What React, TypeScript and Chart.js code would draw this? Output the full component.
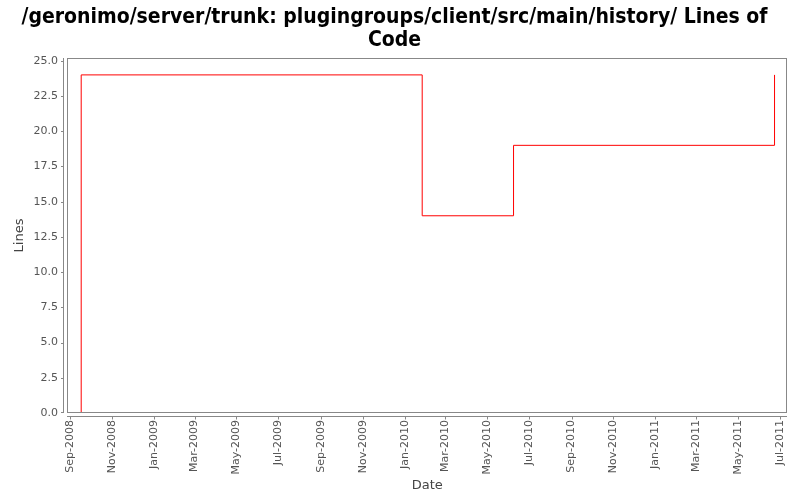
import { useEffect, useRef } from 'react';
import { Chart, registerables } from 'chart.js';

Chart.register(...registerables);

const titleLines = ['/geronimo/server/trunk: plugingroups/client/src/main/history/ Lines of', 'Code'];
const commitDates = ['2008-09-16T16:00:00Z', '2008-09-17T00:00:00Z', '2010-01-26T12:00:00Z', '2010-06-08T12:00:00Z', '2011-06-23T12:00:00Z'];
const lineCounts = [0, 24, 14, 19, 24];
const xTickLabels = ['Sep-2008', 'Nov-2008', 'Jan-2009', 'Mar-2009', 'May-2009', 'Jul-2009', 'Sep-2009', 'Nov-2009', 'Jan-2010', 'Mar-2010', 'May-2010', 'Jul-2010', 'Sep-2010', 'Nov-2010', 'Jan-2011', 'Mar-2011', 'May-2011', 'Jul-2011'];
const yTickValues = [0, 2.5, 5, 7.5, 10, 12.5, 15, 17.5, 20, 22.5, 25];
const xRange = ['2008-08-27T08:00:00Z', '2011-07-12T05:00:00Z'];
const yRange = [0, 25.2];

const monthNames = ['Jan', 'Feb', 'Mar', 'Apr', 'May', 'Jun', 'Jul', 'Aug', 'Sep', 'Oct', 'Nov', 'Dec'];
const labelToTime = (label: string) => {
  const [m, y] = label.split('-');
  return Date.UTC(Number(y), monthNames.indexOf(m), 1);
};
const xTickValues = xTickLabels.map(labelToTime);

const AXIS_COLOR = '#888888';
const TICK_COLOR = '#555555';
const FONT = 'DejaVu Sans';

const framePlugin = {
  id: 'frame',
  afterDatasetsDraw(chart: any) {
    const { ctx, chartArea: a, scales } = chart;
    ctx.save();
    ctx.strokeStyle = AXIS_COLOR;
    ctx.lineWidth = 1;
    const L = Math.round(a.left), R = Math.round(a.right), T = Math.round(a.top), B = Math.round(a.bottom);
    ctx.strokeRect(L + 0.5, T + 0.5, R - L - 1, B - T - 1);
    ctx.beginPath();
    const ax = L - 4 + 0.5;
    ctx.moveTo(ax, T);
    ctx.lineTo(ax, B);
    for (const v of yTickValues) {
      const y = Math.min(B - 1, Math.round(scales.y.getPixelForValue(v))) + 0.5;
      ctx.moveTo(ax - 2.5, y);
      ctx.lineTo(ax, y);
    }
    const ay = B + 3 + 0.5;
    ctx.moveTo(L, ay);
    ctx.lineTo(R, ay);
    for (const v of xTickValues) {
      const x = Math.round(scales.x.getPixelForValue(v)) + 0.5;
      ctx.moveTo(x, ay);
      ctx.lineTo(x, ay + 3);
    }
    ctx.stroke();
    ctx.restore();
  },
};

export default function App() {
  const ref = useRef<HTMLCanvasElement>(null);
  useEffect(() => {
    if (!ref.current) return;
    Chart.defaults.font.family = FONT;
    const chart = new Chart(ref.current, {
      type: 'line',
      data: {
        datasets: [
          {
            data: commitDates.map((d, i) => ({ x: Date.parse(d), y: lineCounts[i] })),
            stepped: 'before',
            borderColor: '#ff0000',
            borderWidth: 1,
            pointRadius: 0,
            fill: false,
          },
        ],
      },
      options: {
        animation: false,
        responsive: true,
        maintainAspectRatio: false,
        layout: { padding: { left: 0, right: 11, top: 0, bottom: 0 } },
        plugins: {
          legend: { display: false },
          tooltip: { enabled: false },
          title: {
            display: true,
            text: titleLines,
            color: '#000000',
            font: { family: "'DejaVu Sans Condensed', 'DejaVu Sans'", size: 21, weight: 'bold', lineHeight: '23px' },
            padding: { top: 6, bottom: 6 },
          },
        },
        scales: {
          x: {
            type: 'linear',
            min: Date.parse(xRange[0]),
            max: Date.parse(xRange[1]),
            grid: { display: false, drawTicks: false },
            border: { display: false },
            afterBuildTicks: (scale: any) => {
              scale.ticks = xTickValues.map((v) => ({ value: v }));
            },
            afterFit: (scale: any) => {
              scale.height = 87;
            },
            ticks: {
              autoSkip: false,
              minRotation: 90,
              maxRotation: 90,
              padding: 7,
              color: TICK_COLOR,
              font: { size: 11 },
              callback: (value: any) => {
                const i = xTickValues.indexOf(Number(value));
                return i >= 0 ? xTickLabels[i] : '';
              },
            },
            title: {
              display: true,
              text: 'Date',
              color: '#444444',
              font: { size: 13 },
              padding: { top: 0, bottom: 7 },
            },
          },
          y: {
            type: 'linear',
            min: yRange[0],
            max: yRange[1],
            grid: { display: false, drawTicks: false },
            border: { display: false },
            afterBuildTicks: (scale: any) => {
              scale.ticks = yTickValues.map((v) => ({ value: v }));
            },
            afterFit: (scale: any) => {
              scale.width = 67;
            },
            ticks: {
              padding: 9,
              color: TICK_COLOR,
              font: { size: 11 },
              callback: (value: any) => Number(value).toFixed(1),
            },
            title: {
              display: true,
              text: 'Lines',
              color: '#444444',
              font: { size: 13 },
              padding: { top: 12, bottom: 0 },
            },
          },
        },
      },
      plugins: [framePlugin],
    });
    return () => chart.destroy();
  }, []);
  return (
    <div style={{ position: 'fixed', left: 0, top: 0, width: 800, height: 500, background: '#fff' }}>
      <canvas ref={ref} />
    </div>
  );
}
